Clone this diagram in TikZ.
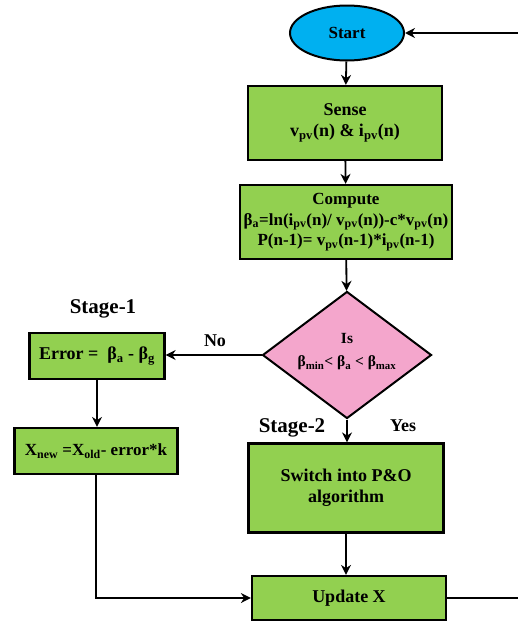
\documentclass[tikz,border=0pt]{standalone}
\usepackage{fontspec}
\setmainfont{Liberation Serif}
\usetikzlibrary{shapes.geometric,arrows.meta}

\definecolor{boxgreen}{RGB}{146,208,80}
\definecolor{startblue}{RGB}{0,176,240}
\definecolor{decpink}{RGB}{244,166,204}
\newcommand{\sbs}[1]{\textsubscript{#1}}

\begin{document}
\begin{tikzpicture}[x=1pt, y=1pt,
block/.style={rectangle, draw, line width=2.2pt, fill=boxgreen, align=center, inner sep=2pt,
              font=\bfseries\fontsize{18}{21}\selectfont},
terminal/.style={ellipse, draw, line width=2pt, fill=startblue, inner sep=0pt,
              font=\bfseries\fontsize{17}{20}\selectfont},
decision/.style={diamond, draw, line width=2pt, fill=decpink, inner sep=0pt},
edge/.style={line width=1.8pt, -{Stealth[length=10pt,width=10pt]}},
info/.style={draw=none, fill=none, inner sep=0pt, font=\bfseries\fontsize{21}{24}\selectfont}]

\useasboundingbox (0,0) rectangle (518,-624);

%% main column
\node[terminal, minimum width=114, minimum height=55] (start) at (347,-33) {Start};
\node[block, minimum width=194, minimum height=74] (sense) at (345,-123)
      {Sense\\ v\sbs{pv}(n) \& i\sbs{pv}(n)};
\node[block, minimum width=212, minimum height=74, font=\bfseries\fontsize{17}{20.5}\selectfont]
      (compute) at (346,-222)
      {Compute\\ β\sbs{a}=ln(i\sbs{pv}(n)/ v\sbs{pv}(n))-c*v\sbs{pv}(n)\\
       P(n-1)= v\sbs{pv}(n-1)*i\sbs{pv}(n-1)};
\node[decision, minimum width=169, minimum height=127] (check) at (347,-355) {};
\node[info, align=center, font=\bfseries\fontsize{15.5}{23}\selectfont] (checktext) at (347,-352)
      {Is\\ β\sbs{min}< β\sbs{a} < β\sbs{max}};
\node[block, minimum width=195, minimum height=89] (switch) at (346,-488)
      {Switch into P\&O\\ algorithm};
\node[block, minimum width=194, minimum height=44] (update) at (349,-598) {Update X};

%% left column (stage 1)
\node[block, minimum width=135, minimum height=46] (error) at (97,-356)
      {Error =\ \ β\sbs{a} - β\sbs{g}};
\node[block, minimum width=163, minimum height=46, font=\bfseries\fontsize{17}{20}\selectfont]
      (xnew) at (96,-451)
      {X\sbs{new} =X\sbs{old}- error*k};

%% labels
\node[info] (stage1) at (103,-309) {Stage-1};
\node[info] (stage2) at (292,-428) {Stage-2};
\node[info, font=\bfseries\fontsize{18}{20}\selectfont] (no) at (215,-341) {No};
\node[info, font=\bfseries\fontsize{18}{20}\selectfont] (yes) at (403,-426) {Yes};

%% loop back corner, just outside the page
\coordinate (loop) at (521,-598);

%% place all edges
\draw[edge] (start) -- (sense);
\draw[edge] (sense) -- (compute);
\draw[edge] (compute) -- (check);
\draw[edge] (check.west) -- (check.west -| error.east);
\draw[edge] (check.south) -- (check.south |- switch.north);
\draw[edge] (error.south) -- (error.south |- xnew.north);
\draw[edge] (xnew.south) |- (update.west);
\draw[edge] (switch.south) -- (switch.south |- update.north);
\draw[edge] (update.east) -- (loop) |- (start.east);

\end{tikzpicture}
\end{document}
